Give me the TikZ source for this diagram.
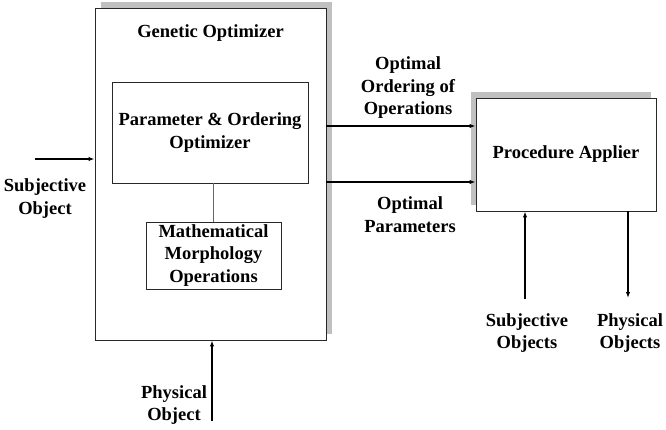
\documentclass[tikz,border=0pt]{standalone}
\usepackage{fontspec}
\setmainfont{Liberation Serif}
\usetikzlibrary{arrows.meta,shadows,calc}
\definecolor{shadowgray}{RGB}{192,192,192}
\definecolor{boxline}{RGB}{40,40,40}
\begin{document}
\begin{tikzpicture}[x=1pt,y=-1pt,
  every node/.style={font=\bfseries\fontsize{18.5}{22.5}\selectfont, inner sep=0pt},
  box/.style={draw=boxline, line width=0.9pt, fill=white, rectangle},
  lbl/.style={align=center},
  arr/.style={line width=1.4pt, -{Latex[length=6pt,width=4.5pt]}},
  link/.style={draw=gray!80!black, line width=1pt}
]
\useasboundingbox (0,0) rectangle (666,430);
% main boxes
\node[box, minimum width=231, minimum height=332,
  drop shadow={shadow xshift=5.5pt, shadow yshift=6pt, fill=shadowgray, opacity=1}]
  (genetic) at (210.5,174) {};
\node (gtitle) at (210.5,33) {Genetic Optimizer};
\node[box, minimum width=196, minimum height=101, lbl] (param) at (210,132.5)
  {Parameter \& Ordering\\Optimizer};
\node[box, minimum width=135, minimum height=67, lbl] (math) at (213.5,255.5)
  {Mathematical\\Morphology\\Operations};
\draw[link] (param.south -| math.north) -- (math.north);
\node[box, minimum width=180, minimum height=113,
  drop shadow={shadow xshift=-5pt, shadow yshift=6pt, fill=shadowgray, opacity=1}]
  (proc) at (566,154.5) {Procedure Applier};
% arrows between boxes
\draw[arr] (genetic.east |- 0,126) -- (proc.west |- 0,126);
\draw[arr] (genetic.east |- 0,182) -- (proc.west |- 0,182);
\node[lbl] (lorder) at (408,88) {Optimal\\Ordering of\\Operations};
\node[lbl] (lparam) at (410,214.5) {Optimal\\Parameters};
% inputs to genetic
\coordinate (sobj) at (35,159);
\draw[arr] (sobj) -- (genetic.west |- sobj);
\node[lbl] (lsobj) at (45,198.5) {Subjective\\Object};
\coordinate (pobj) at (212,421);
\draw[arr] (pobj) -- (genetic.south -| pobj);
\node[lbl] (lpobj) at (174,405) {Physical\\Object};
% procedure applier in/out
\coordinate (sobjs) at (525,299);
\draw[arr] (sobjs) -- (proc.south -| sobjs);
\coordinate (pobjs) at (628,298);
\draw[arr] (proc.south -| pobjs) -- (pobjs);
\node[lbl] (lsobjs) at (527,333) {Subjective\\Objects};
\node[lbl] (lpobjs) at (630,333) {Physical\\Objects};
\end{tikzpicture}
\end{document}
